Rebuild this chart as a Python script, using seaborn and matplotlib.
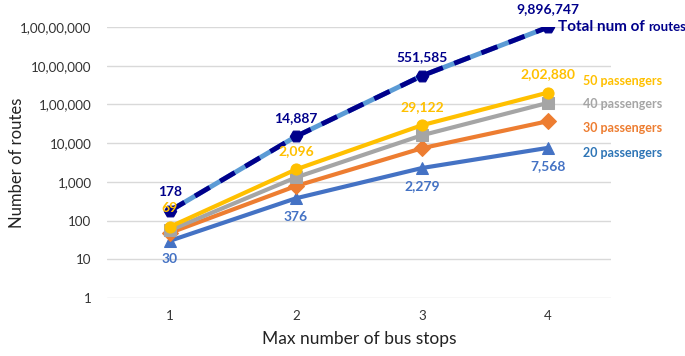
import seaborn as sns
import pandas as pd
import matplotlib.pyplot as plt

stops = [1, 2, 3, 4]
total = [178, 14887, 551585, 9896747]
p50 = [69, 2096, 29122, 202880]
p40 = [56, 1300, 16000, 110000]
p30 = [48, 780, 7400, 37000]
p20 = [30, 376, 2279, 7568]

total_lbl = ["178", "14,887", "551,585", "9,896,747"]
p50_lbl = ["69", "2,096", "29,122", "2,02,880"]
p20_lbl = ["30", "376", "2,279", "7,568"]
ytick_lbl = ["1", "10", "100", "1,000", "10,000", "1,00,000", "10,00,000", "1,00,00,000"]

sns.set_style("white")
plt.rcParams["font.family"] = ["Lato", "DejaVu Sans"]

fig = plt.figure(figsize=(6.85, 3.56), dpi=100)
ax = fig.add_axes([0.156, 0.163, 0.736, 0.761])

df = pd.DataFrame({"stops": stops, "total": total, "p50": p50, "p40": p40, "p30": p30, "p20": p20})

navy = "#00008B"
series = [("p20", "#4472C4", "^"), ("p30", "#ED7D31", "D"), ("p40", "#A5A5A5", "s"), ("p50", "#FFC000", "o")]
for col, c, m in series:
    sns.lineplot(data=df, x="stops", y=col, color=c, marker=m, markersize=8, lw=3,
                 markeredgecolor=c, ax=ax, zorder=3)
sns.lineplot(data=df, x="stops", y="total", color="#5B9BD5", lw=3.5, ax=ax, zorder=4)
sns.lineplot(data=df, x="stops", y="total", color=navy, lw=3.5, ax=ax, zorder=5,
             marker="H", markersize=9, markeredgecolor=navy, linestyle=(0, (3.5, 2.5)))

ax.set_yscale("log")
ax.set_ylim(1, 1e7)
ax.set_xlim(0.5, 4.5)
ax.set_xticks(stops)
ax.set_yticks([10 ** i for i in range(8)])
ax.set_yticklabels(ytick_lbl)
ax.minorticks_off()
ax.tick_params(axis="both", length=0, labelsize=9.6, colors="#333333")
ax.tick_params(axis="y", pad=11)
ax.tick_params(axis="x", pad=9)
ax.grid(axis="y", color="#D9D9D9", lw=1)
for s in ax.spines.values():
    s.set_visible(False)
ax.set_xlabel("Max number of bus stops", fontsize=12.5, color="#222222", labelpad=6)
ax.set_ylabel("Number of routes", fontsize=12, color="#222222")
ax.yaxis.set_label_coords(-0.163, 0.5)

# data labels
for x, y, t in zip(stops, total, total_lbl):
    ax.annotate(t, (x, y), xytext=(0, 9), textcoords="offset points", ha="center",
                va="bottom", color=navy, fontsize=10, fontweight="bold", zorder=6)
for x, y, t in zip(stops, p50, p50_lbl):
    ax.annotate(t, (x, y), xytext=(0, 9), textcoords="offset points", ha="center",
                va="bottom", color="#FFC000", fontsize=10, fontweight="bold", zorder=6)
for x, y, t in zip(stops, p20, p20_lbl):
    ax.annotate(t, (x, y), xytext=(0, -9), textcoords="offset points", ha="center",
                va="top", color="#4472C4", fontsize=10, fontweight="bold", zorder=6)

# series names on the right
ax.annotate("Total num of", (4, total[3]), xytext=(7, 0), textcoords="offset points",
            va="center", color=navy, fontsize=11, fontweight="bold", zorder=6)
ax.annotate("routes", (4, total[3]), xytext=(72, 0), textcoords="offset points",
            va="center", color=navy, fontsize=9.5, fontweight="bold", zorder=6)
names = [("50 passengers", "#FFC000", 81), ("40 passengers", "#A5A5A5", 104),
         ("30 passengers", "#ED7D31", 128), ("20 passengers", "#2E75B6", 153)]
for t, c, ypx in names:
    fig.text(583 / 685, 1 - ypx / 356, t, color=c, fontsize=9, fontweight="bold", va="center")

fig.savefig("out.png", dpi=100)
